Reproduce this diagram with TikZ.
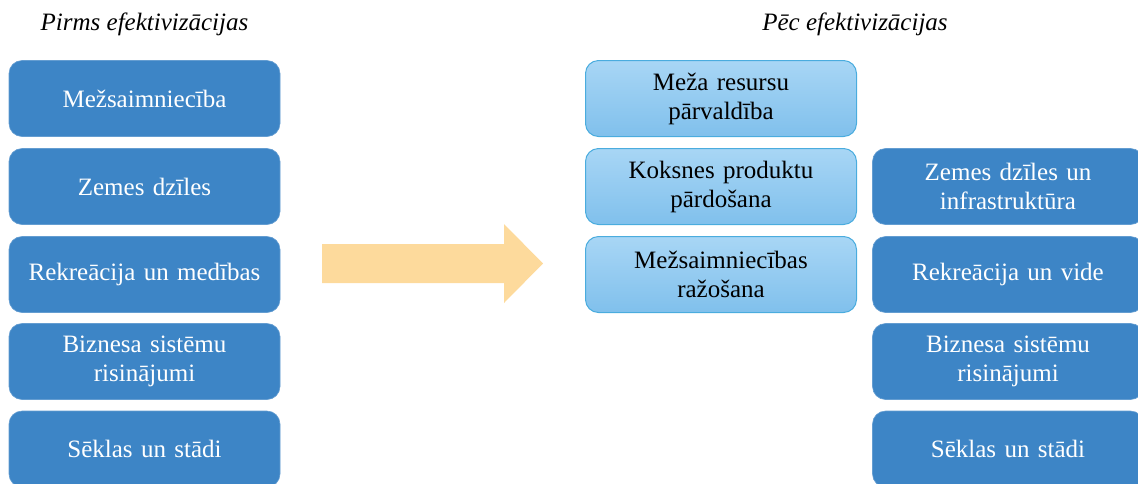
\documentclass[tikz,border=0pt]{standalone}
\usepackage{fontspec}
\setmainfont{Liberation Serif}
\usepackage{tikz}

\definecolor{darkbox}{RGB}{61,133,198}
\definecolor{lighttop}{RGB}{168,214,245}
\definecolor{lightbot}{RGB}{128,192,236}
\definecolor{lightedge}{RGB}{74,172,222}
\definecolor{arrowfill}{RGB}{253,218,156}

\begin{document}
\begin{tikzpicture}[x=1pt,y=-1pt,
	oldbox/.style={shape=rectangle,rounded corners=13pt,fill=darkbox,draw=darkbox!80!white,line width=0.6pt,
		minimum width=271pt,minimum height=76pt,text width=240pt,align=center,text=white,
		font=\fontsize{25}{29}\selectfont},
	newbox/.style={oldbox,fill=none,top color=lighttop,bottom color=lightbot,draw=lightedge,line width=1pt,text=black},
	title/.style={font=\fontsize{25}{29}\selectfont\itshape}]
	
	\useasboundingbox (0,0) rectangle (1138,483);
	\clip (0,0) rectangle (1138,483);
	
	\node[title] (before) at (144.5, 24)     {Pirms efektivizācijas};
	\node[title] (after) at (855, 24)     {Pēc efektivizācijas};
	
	\node[oldbox] (a1) at (144.5, 98.5)     {Mežsaimniecība};
	\node[oldbox] (a2) at (144.5, 186.5)     {Zemes dzīles};
	\node[oldbox] (a3) at (144.5, 274.5)     {Rekreācija un medības};
	\node[oldbox] (a4) at (144.5, 361.5)     {Biznesa sistēmu\\risinājumi};
	\node[oldbox] (a5) at (144.5, 449)     {Sēklas un stādi};
	
	\node[newbox] (b1) at (721, 98.5)     {Meža resursu\\pārvaldība};
	\node[newbox] (b2) at (721, 186.5)     {Koksnes produktu\\pārdošana};
	\node[newbox] (b3) at (721, 274.5)     {Mežsaimniecības\\ražošana};
	
	\node[oldbox] (c2) at (1008, 186.5)     {Zemes dzīles un\\infrastruktūra};
	\node[oldbox] (c3) at (1008, 274.5)     {Rekreācija un vide};
	\node[oldbox] (c4) at (1008, 361.5)     {Biznesa sistēmu\\risinājumi};
	\node[oldbox] (c5) at (1008, 449)     {Sēklas un stādi};
	
	\fill[arrowfill] (322,244) -- (504,244) -- (504,224) -- (543,263.5)
		-- (504,303) -- (504,283) -- (322,283) -- cycle;
\end{tikzpicture}
\end{document}
